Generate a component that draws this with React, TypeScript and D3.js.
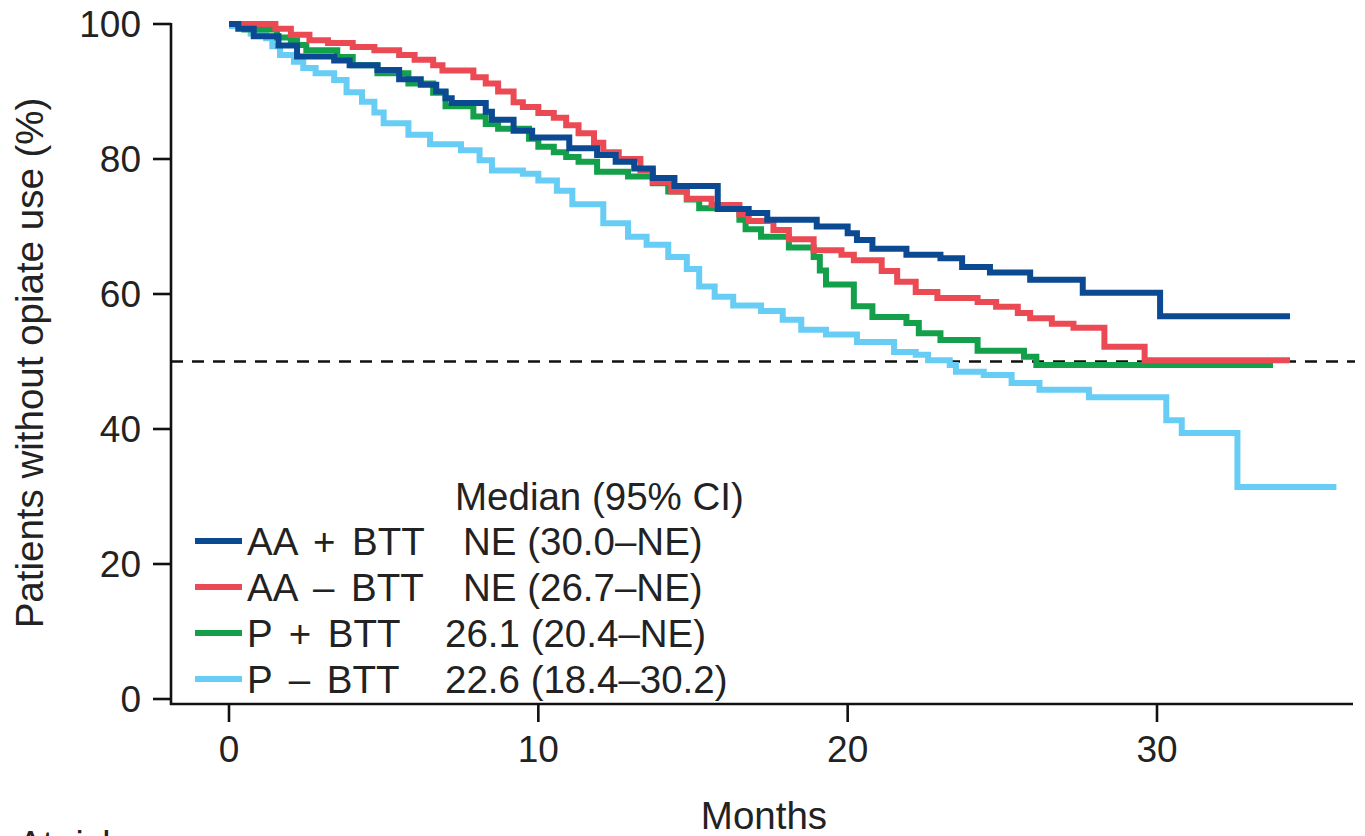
import React from "react";
import * as d3 from "d3";

const xTicks = [0, 10, 20, 30];
const yTicks = [0, 20, 40, 60, 80, 100];

const aaPlusTimes = [0, 0.3, 0.8, 1.6, 2.2, 3.4, 3.9, 4.8, 5.5, 6.2, 6.7, 7.0, 7.2, 8.3, 8.5, 9.2, 9.8, 11.0, 11.9, 12.5, 13.1, 13.7, 14.4, 15.8, 16.8, 17.4, 19.0, 20.0, 20.3, 20.8, 21.9, 23.0, 23.7, 24.6, 25.9, 27.6, 30.1, 34.3];
const aaPlusSurv = [100, 99.3, 98.2, 96.8, 95.2, 94.6, 93.9, 93.2, 91.8, 91.0, 90.0, 89.0, 88.3, 87.0, 85.8, 84.2, 83.2, 81.6, 80.6, 79.6, 78.6, 77.2, 76.0, 72.6, 72.0, 71.0, 70.0, 69.0, 68.0, 66.7, 65.8, 65.3, 64.0, 63.2, 62.1, 60.2, 56.7, 56.7];

const aaMinusTimes = [0, 1.5, 2.0, 2.6, 3.2, 4.0, 4.7, 5.5, 6.0, 6.6, 6.9, 7.9, 8.3, 8.7, 9.2, 9.5, 10.0, 10.5, 10.9, 11.3, 11.8, 12.1, 12.6, 13.3, 13.7, 14.3, 14.8, 15.6, 16.5, 16.8, 17.6, 18.1, 18.9, 19.8, 20.2, 21.1, 21.6, 22.2, 22.9, 24.2, 24.8, 25.5, 25.9, 26.6, 27.3, 28.3, 29.6, 34.3];
const aaMinusSurv = [100, 99.3, 98.4, 97.6, 97.2, 96.6, 96.1, 95.4, 94.7, 93.9, 93.1, 92.1, 91.2, 90.0, 88.4, 87.7, 86.8, 86.1, 85.0, 83.8, 82.4, 81.0, 80.0, 78.3, 76.6, 75.2, 74.1, 73.2, 71.8, 70.8, 69.5, 68.1, 66.5, 65.8, 65.0, 63.4, 61.8, 60.3, 59.4, 58.8, 58.1, 57.2, 56.4, 55.6, 55.0, 52.2, 50.2, 50.2];

const pPlusTimes = [0, 0.5, 1.55, 2.0, 2.2, 2.5, 3.5, 4.0, 4.8, 5.8, 6.6, 7.0, 7.9, 8.3, 8.7, 9.7, 10.0, 10.5, 10.9, 11.3, 11.9, 12.9, 13.7, 14.2, 14.8, 15.2, 16.5, 16.7, 17.2, 18.1, 18.9, 19.1, 19.3, 20.2, 20.8, 21.9, 22.3, 23.0, 24.2, 25.7, 26.1, 33.75];
const pPlusSurv = [100, 99.2, 98.0, 97.6, 96.9, 96.1, 95.1, 93.9, 92.7, 91.2, 89.8, 87.8, 86.3, 85.2, 84.5, 83.0, 81.8, 81.0, 80.3, 79.6, 78.1, 77.4, 76.4, 75.2, 74.0, 72.7, 71.0, 69.6, 68.5, 66.9, 65.5, 63.5, 61.4, 58.2, 56.6, 55.7, 54.2, 53.2, 51.6, 50.7, 49.5, 49.5];

const pMinusTimes = [0, 0.7, 1.2, 1.4, 1.65, 2.1, 2.4, 2.8, 3.4, 3.8, 4.3, 4.7, 5.0, 5.8, 6.5, 7.5, 8.1, 8.5, 9.5, 10.0, 10.6, 11.1, 12.1, 12.9, 13.5, 14.2, 14.8, 15.2, 15.7, 16.3, 17.2, 17.9, 18.5, 19.3, 20.3, 21.5, 22.2, 22.6, 23.3, 23.5, 24.4, 25.3, 26.2, 27.8, 30.3, 30.8, 32.6, 35.8];
const pMinusSurv = [99.7, 98.6, 97.9, 96.7, 95.4, 94.4, 93.5, 92.7, 91.7, 89.9, 88.5, 86.9, 85.3, 83.6, 82.2, 81.3, 79.8, 78.3, 77.8, 76.8, 75.3, 73.3, 70.5, 68.5, 67.3, 65.5, 63.7, 61.1, 59.6, 58.3, 57.5, 56.2, 54.7, 54.0, 52.9, 51.4, 51.0, 50.2, 49.5, 48.5, 48.0, 46.8, 45.8, 44.7, 41.3, 39.4, 31.4, 31.4];

const groupNames = ["AA + BTT", "AA \u2013 BTT", "P + BTT", "P \u2013 BTT"];
const groupMedians = ["NE (30.0\u2013NE)", "NE (26.7\u2013NE)", "26.1 (20.4\u2013NE)", "22.6 (18.4\u201330.2)"];
const groupColors = ["#0b4a93", "#eb4a55", "#14a04a", "#68cdf5"];

const seriesTimes = [aaPlusTimes, aaMinusTimes, pPlusTimes, pMinusTimes];
const seriesSurv = [aaPlusSurv, aaMinusSurv, pPlusSurv, pMinusSurv];

const FONT = "'Liberation Sans', Arial, Helvetica, sans-serif";

export default function App() {
  const W = 1365;
  const H = 836;
  const x = d3.scaleLinear().domain([0, 30]).range([229, 1157]);
  const y = d3.scaleLinear().domain([0, 100]).range([699, 24]);
  const axisX0 = 171;
  const axisY0 = 704;
  const fs = 37;
  const fsL = 38.5;

  const line = d3
    .line<[number, number]>()
    .x((d) => x(d[0]))
    .y((d) => y(d[1]))
    .curve(d3.curveStepAfter);

  const order = [3, 2, 1, 0];
  const legendRowsY = [541, 587, 633, 679];

  return (
    <svg
      width={W}
      height={H}
      style={{ position: "absolute", left: 0, top: 0, background: "#fff" }}
      fontFamily={FONT}
    >
      <rect x={0} y={0} width={W} height={H} fill="#fff" />
      <line
        x1={axisX0}
        x2={1355}
        y1={y(50)}
        y2={y(50)}
        stroke="#111"
        strokeWidth={2.6}
        strokeDasharray="12,9"
      />
      {order.map((i) => {
        const pts: [number, number][] = seriesTimes[i].map((t, k) => [t, seriesSurv[i][k]]);
        return (
          <path
            key={i}
            d={line(pts) || ""}
            fill="none"
            stroke={groupColors[i]}
            strokeWidth={6}
            strokeLinejoin="miter"
          />
        );
      })}
      <line x1={axisX0} x2={axisX0} y1={y(100) - 1} y2={axisY0 + 1} stroke="#111" strokeWidth={2.6} />
      <line x1={axisX0 - 1} x2={1353} y1={axisY0} y2={axisY0} stroke="#111" strokeWidth={2.6} />
      {yTicks.map((t) => (
        <g key={"y" + t}>
          <line x1={153} x2={axisX0} y1={y(t)} y2={y(t)} stroke="#111" strokeWidth={2.6} />
          <text x={141} y={y(t)} textAnchor="end" dominantBaseline="central" fontSize={fs} fill="#222">
            {t}
          </text>
        </g>
      ))}
      {xTicks.map((t) => (
        <g key={"x" + t}>
          <line x1={x(t)} x2={x(t)} y1={axisY0} y2={722} stroke="#111" strokeWidth={2.6} />
          <text x={x(t)} y={762} textAnchor="middle" fontSize={fs} fill="#222">
            {t}
          </text>
        </g>
      ))}
      <text transform={`translate(43, 363) rotate(-90)`} textAnchor="middle" fontSize={38.5} fill="#222">
        Patients without opiate use (%)
      </text>
      <text x={764} y={829} textAnchor="middle" fontSize={38.5} fill="#222">
        Months
      </text>
      <text x={18} y={857} fontSize={fs} fill="#222">
        At risk
      </text>
      <text x={455} y={510} fontSize={fsL} fill="#222">
        Median (95% CI)
      </text>
      {groupNames.map((name, i) => (
        <g key={name}>
          <line x1={195} x2={242} y1={legendRowsY[i]} y2={legendRowsY[i]} stroke={groupColors[i]} strokeWidth={6} />
          <text
            x={247}
            y={legendRowsY[i]}
            dominantBaseline="central"
            fontSize={fsL}
            wordSpacing={6}
            fill="#222"
          >
            {name}
          </text>
          <text
            x={i < 2 ? 463 : 445}
            y={legendRowsY[i]}
            dominantBaseline="central"
            fontSize={fsL}
            fill="#222"
          >
            {groupMedians[i]}
          </text>
        </g>
      ))}
    </svg>
  );
}
